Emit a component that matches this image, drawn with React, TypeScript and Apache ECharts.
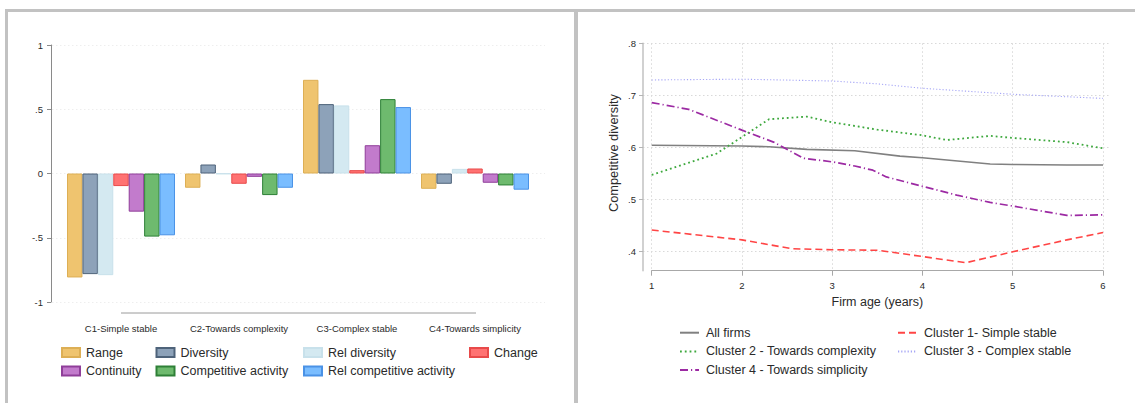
import React, { useEffect, useRef } from "react";
import * as echarts from "echarts";

// ---------- Left panel data (bar chart) ----------
const clusters = ["C1-Simple stable", "C2-Towards complexity", "C3-Complex stable", "C4-Towards simplicity"];
const rangeVals = [-0.809, -0.111, 0.729, -0.119];
const diversityVals = [-0.783, 0.07, 0.54, -0.08];
const relDiversityVals = [-0.791, -0.004, 0.53, 0.036];
const changeVals = [-0.098, -0.08, 0.026, 0.039];
const continuityVals = [-0.297, -0.026, 0.22, -0.072];
const compActivityVals = [-0.491, -0.168, 0.579, -0.093];
const relCompActivityVals = [-0.481, -0.111, 0.517, -0.126];

// ---------- Right panel data (lines: [firm age, competitive diversity]) ----------
const allFirms = [[1, 0.604], [2, 0.6026], [2.3, 0.601], [2.72, 0.596], [3.25, 0.5935], [3.75, 0.583], [4, 0.58], [4.75, 0.568], [5, 0.567], [5.6, 0.566], [6, 0.566]];
const cluster1 = [[1, 0.441], [2, 0.422], [2.55, 0.405], [3, 0.403], [3.5, 0.402], [4, 0.39], [4.48, 0.378], [5, 0.399], [5.6, 0.422], [6, 0.436]];
const cluster2 = [[1, 0.547], [1.72, 0.588], [2.3, 0.654], [2.72, 0.659], [3, 0.648], [3.5, 0.634], [4, 0.623], [4.27, 0.614], [4.75, 0.622], [5, 0.618], [5.6, 0.61], [6, 0.598]];
const cluster3 = [[1, 0.7295], [2, 0.731], [3, 0.7275], [3.5, 0.722], [4, 0.7135], [5, 0.702], [6, 0.694]];
const cluster4 = [[1, 0.686], [1.41, 0.673], [2, 0.633], [2.35, 0.61], [2.68, 0.579], [3, 0.572], [3.25, 0.564], [3.45, 0.556], [3.6, 0.543], [4, 0.525], [4.38, 0.508], [4.75, 0.494], [5, 0.487], [5.6, 0.469], [6, 0.47]];

const stataFmt = (v: number) => {
  const r = Math.round(v * 100) / 100;
  if (r === 0) return "0";
  const s = String(Math.abs(r)).replace(/^0\./, ".");
  return (r < 0 ? "-" : "") + s;
};

const FONT = "Liberation Sans, Arial, sans-serif";
const TXT = "#2a2a2a";

const barDefs = [
  { name: "Range", data: rangeVals, color: "#EFC46F", border: "#DDAF55" },
  { name: "Diversity", data: diversityVals, color: "#8DA2B9", border: "#4E637A" },
  { name: "Rel diversity", data: relDiversityVals, color: "#D4E9F1", border: "#C8E1EB" },
  { name: "Change", data: changeVals, color: "#FF7272", border: "#E84A4A" },
  { name: "Continuity", data: continuityVals, color: "#C27BCC", border: "#8F3E99" },
  { name: "Competitive activity", data: compActivityVals, color: "#6EBA6E", border: "#2E8037" },
  { name: "Rel competitive activity", data: relCompActivityVals, color: "#7ABDFF", border: "#4A92E6" },
];

const lineDefs = [
  { name: "All firms", data: allFirms, color: "#808080", width: 1.6, type: "solid" as any },
  { name: "Cluster 1- Simple stable", data: cluster1, color: "#FF4545", width: 1.6, type: [7, 4] },
  { name: "Cluster 2 - Towards complexity", data: cluster2, color: "#3DA83D", width: 1.8, type: [1.8, 3] },
  { name: "Cluster 3 - Complex stable", data: cluster3, color: "#A6A6F6", width: 1.1, type: [1.2, 2] },
  { name: "Cluster 4 - Towards simplicity", data: cluster4, color: "#9C2AA3", width: 1.7, type: [8, 3, 1.2, 3] },
];

const legendText = { fontSize: 12.5, color: TXT, fontFamily: FONT, lineHeight: 15, padding: [0, 0, 0, 1] };

function barLegend(names: string[], left: number) {
  return {
    data: names.map((n) => ({ name: n, icon: "rect" })),
    orient: "vertical",
    left,
    top: 345,
    itemGap: 3.5,
    itemWidth: 18,
    itemHeight: 9,
    padding: 0,
    selectedMode: false,
    textStyle: legendText,
  };
}

function lineLegend(names: string[], left: number) {
  return {
    data: names,
    orient: "vertical",
    left,
    top: 325.2,
    itemGap: 3.7,
    itemWidth: 19,
    itemHeight: 10,
    padding: 0,
    selectedMode: false,
    itemStyle: { opacity: 0, color: "transparent", borderWidth: 0 },
    textStyle: { ...legendText, padding: [0, 0, 0, 2] },
  };
}

const option: any = {
  animation: false,
  backgroundColor: "#ffffff",
  textStyle: { fontFamily: FONT },
  grid: [
    { left: 62, width: 472, top: 45, height: 257 },
    { left: 52, width: 493, top: 45, height: 257 },
    { left: 651.7, width: 451.3, top: 43.3, height: 227.4 },
    { left: 643, width: 467, top: 43.3, height: 208 },
  ],
  xAxis: [
    {
      type: "category",
      gridIndex: 0,
      data: clusters,
      axisLine: { show: false },
      axisTick: { show: false },
      axisLabel: { margin: 21, fontSize: 9.5, color: TXT, fontFamily: FONT, interval: 0 },
    },
    { type: "value", gridIndex: 1, min: 0, max: 1, show: false },
    {
      type: "value",
      gridIndex: 2,
      min: 1,
      max: 6,
      interval: 1,
      axisLine: { show: true, lineStyle: { color: "#A8A8A8", width: 1.2 } },
      axisTick: { show: true, length: 5, lineStyle: { color: "#A8A8A8" } },
      axisLabel: { margin: 10, fontSize: 9.5, color: TXT, fontFamily: FONT },
      splitLine: { show: true, lineStyle: { color: "#D9D9D9", type: [1.5, 2.5] } },
      name: "Firm age (years)",
      nameLocation: "middle",
      nameGap: 24,
      nameTextStyle: { fontSize: 12.5, color: TXT, fontFamily: FONT },
    },
    { type: "value", gridIndex: 3, min: 0, max: 1, show: false },
  ],
  yAxis: [
    {
      type: "value",
      gridIndex: 0,
      min: -1,
      max: 1,
      interval: 0.5,
      offset: 11,
      axisLine: { show: true, lineStyle: { color: "#8A8A8A" } },
      axisTick: { show: true, length: 4, lineStyle: { color: "#8A8A8A" } },
      axisLabel: { margin: 8, fontSize: 9.5, color: TXT, fontFamily: FONT, formatter: stataFmt },
      splitLine: { show: false },
    },
    {
      type: "value",
      gridIndex: 1,
      min: -1,
      max: 1,
      interval: 0.5,
      axisLine: { show: false },
      axisTick: { show: false },
      axisLabel: { show: false },
      splitLine: { show: true, lineStyle: { color: "#EEEEEE", type: [1.5, 2.5] } },
    },
    {
      type: "value",
      gridIndex: 2,
      min: 0.3627,
      max: 0.8,
      offset: 8.7,
      axisLine: { show: true, lineStyle: { color: "#C2C2C2", width: 1.5 } },
      axisTick: { show: false },
      axisLabel: { show: false },
      splitLine: { show: false },
    },
    {
      type: "value",
      gridIndex: 3,
      min: 0.4,
      max: 0.8,
      interval: 0.1,
      axisLine: { show: false },
      axisTick: { show: true, length: 4, lineStyle: { color: "#B5B5B5" } },
      axisLabel: { margin: 7, fontSize: 9.5, color: TXT, fontFamily: FONT, formatter: stataFmt },
      splitLine: { show: true, lineStyle: { color: "#D9D9D9", type: [1.5, 2.5] } },
    },
  ],
  legend: [
    barLegend(["Range", "Continuity"], 61),
    barLegend(["Diversity", "Competitive activity"], 155.5),
    barLegend(["Rel diversity", "Rel competitive activity"], 303),
    barLegend(["Change"], 469),
    lineLegend(["All firms", "Cluster 2 - Towards complexity", "Cluster 4 - Towards simplicity"], 679),
    lineLegend(["Cluster 1- Simple stable", "Cluster 3 - Complex stable"], 897),
  ],
  series: [
    ...barDefs.map((b) => ({
      type: "bar",
      name: b.name,
      xAxisIndex: 0,
      yAxisIndex: 0,
      data: b.data,
      barGap: "0%",
      barCategoryGap: "8.5%",
      itemStyle: { color: b.color, borderColor: b.border, borderWidth: 1 },
    })),
    ...lineDefs.map((l) => ({
      type: "line",
      name: l.name,
      xAxisIndex: 2,
      yAxisIndex: 2,
      data: l.data,
      showSymbol: false,
      symbol: "none",
      clip: false,
      itemStyle: { color: l.color },
      lineStyle: { color: l.color, width: l.width, type: l.type },
    })),
  ],
  graphic: [
    { type: "rect", shape: { x: 5, y: 9, width: 1130, height: 3 }, style: { fill: "#C2C2C2" }, silent: true },
    { type: "rect", shape: { x: 5, y: 9, width: 3, height: 394 }, style: { fill: "#C2C2C2" }, silent: true },
    { type: "rect", shape: { x: 574, y: 9, width: 4, height: 394 }, style: { fill: "#C2C2C2" }, silent: true },
    { type: "line", shape: { x1: 121, y1: 313, x2: 476, y2: 313 }, style: { stroke: "#9A9A9A", lineWidth: 1 }, silent: true },
    {
      type: "text",
      x: 613,
      y: 153,
      rotation: Math.PI / 2,
      style: { text: "Competitive diversity", fontSize: 12.8, fill: TXT, fontFamily: FONT, align: "center", verticalAlign: "middle" },
      silent: true,
    },
  ],
};

export default function App() {
  const ref = useRef<HTMLDivElement>(null);
  useEffect(() => {
    const chart = echarts.init(ref.current!, null, { renderer: "svg" });
    chart.setOption(option);
    return () => chart.dispose();
  }, []);
  return (
    <div
      ref={ref}
      style={{ position: "absolute", left: 0, top: 0, width: 1135, height: 403, background: "#fff" }}
    />
  );
}
